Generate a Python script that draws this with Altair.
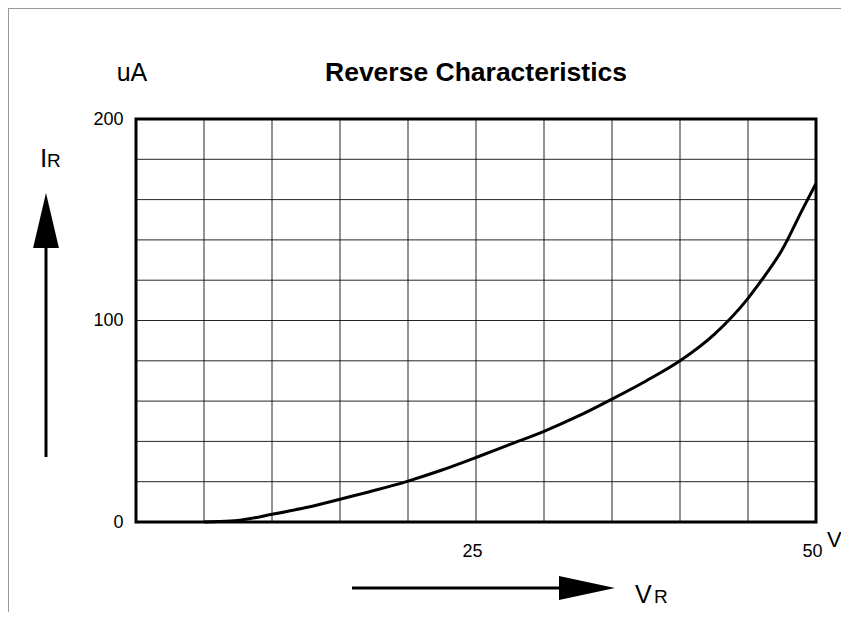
import altair as alt
import pandas as pd

# Curve values
V_VALUES = [5, 6, 7.5, 10, 12.5, 15, 17.5, 20, 22.5, 25, 27.5, 30, 32.5, 35, 37.5, 40, 42.5, 45, 46, 47.5, 49, 50]
I_VALUES = [0, 0.2, 0.8, 3.8, 7.2, 11.3, 15.6, 20.3, 25.8, 32, 38.5, 45, 52.5, 61, 70, 80, 93, 111, 120, 135, 155, 168]

GRID_V = [5, 10, 15, 20, 25, 30, 35, 40, 45]
GRID_I = [20, 40, 60, 80, 100, 120, 140, 160, 180]
X_TICKS = [25, 50]
Y_TICKS = [0, 100, 200]

FONT = "Liberation Sans"
W, H = 680, 403

xs = alt.Scale(domain=[0, 50], nice=False, zero=False)
ys = alt.Scale(domain=[0, 200], nice=False, zero=False)

x_axis = alt.Axis(values=X_TICKS, title=None, domain=False, ticks=False,
                  grid=False, labelFont=FONT, labelFontSize=18,
                  labelColor="black", labelPadding=20, labelFlush=False,
                  labelOffset=-4)
y_axis = alt.Axis(values=Y_TICKS, title=None, domain=False, ticks=False,
                  grid=False, labelFont=FONT, labelFontSize=18,
                  labelColor="black", labelPadding=13, labelFlush=False)

curve_df = pd.DataFrame({"V": V_VALUES, "I": I_VALUES})
gv_df = pd.DataFrame({"V": GRID_V})
gi_df = pd.DataFrame({"I": GRID_I})

grid_v = alt.Chart(gv_df).mark_rule(color="black", strokeWidth=1, opacity=0.85).encode(
    x=alt.X("V:Q", scale=xs, axis=x_axis)
)
grid_i = alt.Chart(gi_df).mark_rule(color="black", strokeWidth=1, opacity=0.85).encode(
    y=alt.Y("I:Q", scale=ys, axis=y_axis)
)

curve = alt.Chart(curve_df).mark_line(color="black", strokeWidth=3, interpolate="monotone").encode(
    x=alt.X("V:Q", scale=xs, axis=x_axis),
    y=alt.Y("I:Q", scale=ys, axis=y_axis),
)

# plot frame
frame = alt.Chart(pd.DataFrame({"a": [0]})).mark_rect(
    fill=None, stroke="black", strokeWidth=3
).encode(x=alt.value(0), x2=alt.value(W), y=alt.value(0), y2=alt.value(H))

def txt(s, x, y, size, bold=False, align="left", baseline="alphabetic"):
    return alt.Chart(pd.DataFrame({"t": [s]})).mark_text(
        font=FONT, fontSize=size, fontWeight="bold" if bold else "normal",
        align=align, baseline=baseline, color="black"
    ).encode(text="t:N", x=alt.value(x), y=alt.value(y))

texts = [
    txt("uA", -4, -38, 25, align="center"),
    txt("Reverse Characteristics", 340, -38, 26.5, bold=True, align="center"),
    txt("I", -96, 48, 26),
    txt("R", -89, 48, 19),
    txt("V", 499, 484, 25),
    txt("R", 518, 484, 19),
    txt("V", 691, 428, 22),
]

# arrows
v_shaft = alt.Chart(pd.DataFrame({"a": [0]})).mark_rule(color="black", strokeWidth=3).encode(
    x=alt.value(-90), y=alt.value(128), y2=alt.value(338))
v_head = alt.Chart(pd.DataFrame({"a": [0]})).mark_point(
    shape="M0,-1L0.47,1L-0.47,1Z", filled=True, color="black", opacity=1, size=3025
).encode(x=alt.value(-90), y=alt.value(101.5))
h_shaft = alt.Chart(pd.DataFrame({"a": [0]})).mark_rule(color="black", strokeWidth=3).encode(
    x=alt.value(216), x2=alt.value(425), y=alt.value(469))
h_head = alt.Chart(pd.DataFrame({"a": [0]})).mark_point(
    shape="M1,0L-1,-0.43L-1,0.43Z", filled=True, color="black", opacity=1, size=3136
).encode(x=alt.value(451), y=alt.value(469))

# outer thin border (top, left)
top_border = alt.Chart(pd.DataFrame({"a": [0]})).mark_rule(color="#999999", strokeWidth=1).encode(
    x=alt.value(-128), x2=alt.value(705), y=alt.value(-110.5))
left_border = alt.Chart(pd.DataFrame({"a": [0]})).mark_rule(color="#999999", strokeWidth=1).encode(
    x=alt.value(-127.5), y=alt.value(-111), y2=alt.value(493))

chart = alt.layer(
    grid_v, grid_i, curve, frame, v_shaft, v_head, h_shaft, h_head, top_border, left_border, *texts
).properties(
    width=W, height=H,
    background="white",
    autosize=alt.AutoSizeParams(type="none"),
    padding={"left": 128, "top": 111, "right": 25, "bottom": 98},
).configure_view(
    strokeWidth=0
)

chart.save("out.html", embed_options={"renderer": "svg", "actions": False})
